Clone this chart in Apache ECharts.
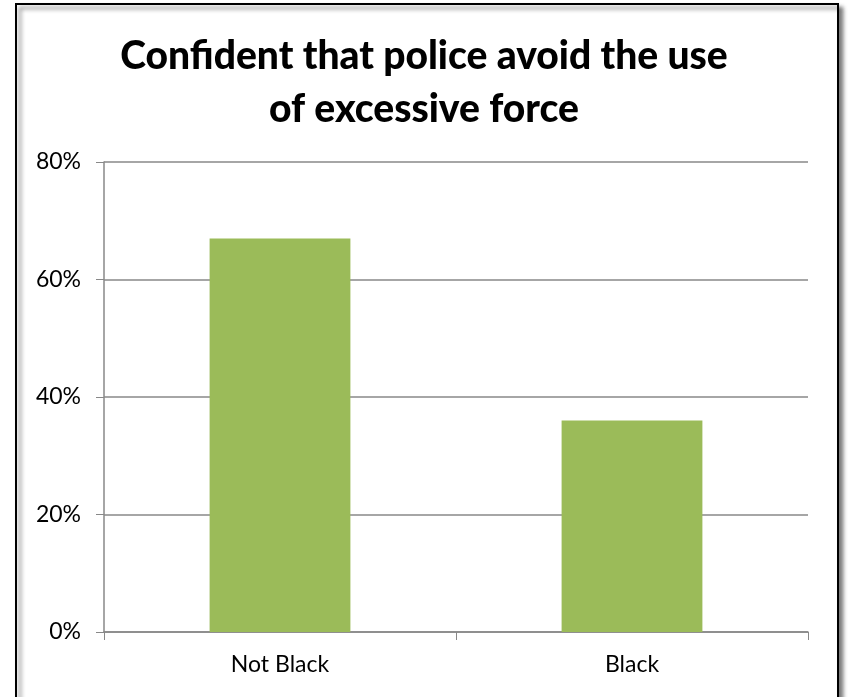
<!DOCTYPE html>
<html><head><meta charset="utf-8">
<script src="https://cdn.jsdelivr.net/npm/echarts@6/dist/echarts.min.js"></script>
<style>html,body{margin:0;padding:0;background:#fff}#c{width:848px;height:697px}</style>
</head><body><div id="c"></div>
<script>
const categories = ['Not Black', 'Black'];
const values = [67, 36];
const yTicks = [0, 20, 40, 60, 80];

const chart = echarts.init(document.getElementById('c'));
chart.setOption({
  animation: false,
  backgroundColor: '#fff',
  graphic: [{
    type: 'rect', z: -10,
    shape: { x: 16, y: 4, width: 822, height: 710 },
    style: { fill: '#fff', stroke: '#000', lineWidth: 2, shadowBlur: 4, shadowOffsetX: 4, shadowOffsetY: 4, shadowColor: 'rgba(0,0,0,0.5)' }
  }],
  title: {
    text: 'Confident that police avoid the use\nof excessive force',
    left: 'center', top: 25,
    textStyle: { fontFamily: 'Lato', fontWeight: 900, fontSize: 39, lineHeight: 53, color: '#000' }
  },
  grid: { left: 104, right: 40, top: 162, bottom: 65 },
  xAxis: {
    type: 'category', data: categories,
    axisLine: { lineStyle: { color: '#888', width: 1.5 } },
    axisTick: { show: true, length: 8, lineStyle: { color: '#888' } },
    axisLabel: { fontFamily: 'Lato', fontSize: 23, color: '#000', margin: 21 }
  },
  yAxis: {
    type: 'value', min: 0, max: 80, interval: 20,
    axisLine: { show: true, lineStyle: { color: '#888', width: 1.5 } },
    axisTick: { show: true, length: 8, lineStyle: { color: '#888' } },
    splitLine: { lineStyle: { color: '#888', width: 1.5 } },
    axisLabel: { fontFamily: 'Lato', fontSize: 23, color: '#000', margin: 23, formatter: v => yTicks.includes(v) ? v + '%' : '' }
  },
  series: [{
    type: 'bar', data: values, barCategoryGap: '60%',
    itemStyle: { color: '#9BBB59' }
  }]
});
</script></body></html>
